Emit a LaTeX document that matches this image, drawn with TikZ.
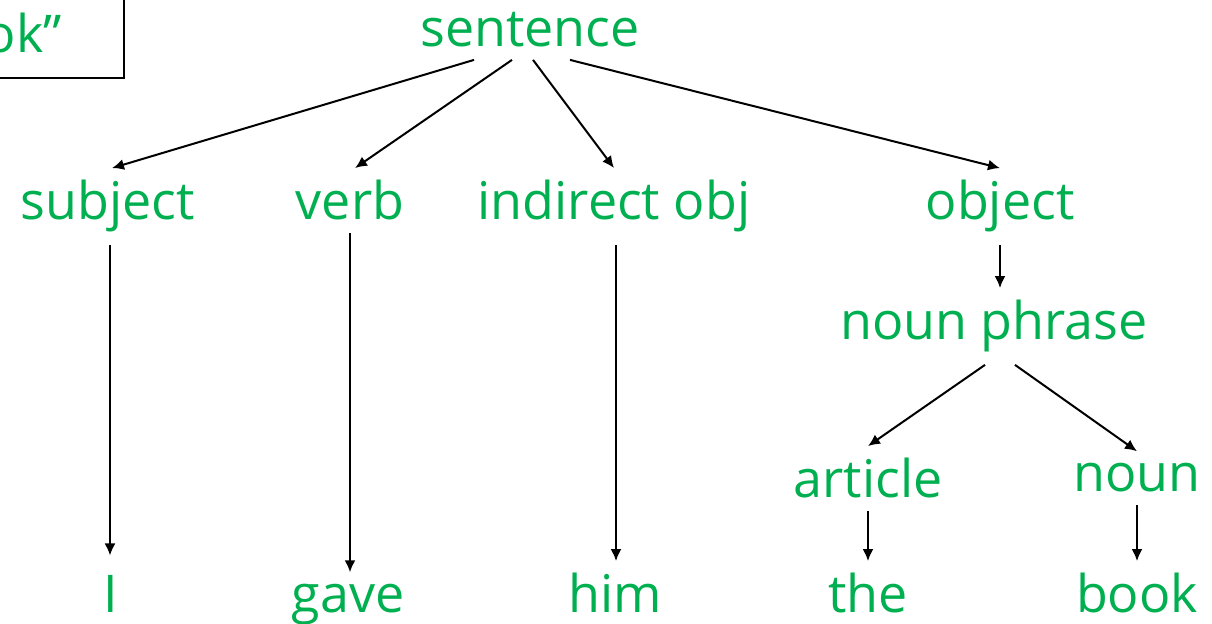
\documentclass[tikz,border=0pt]{standalone}
\usepackage{fontspec}
\setmainfont{Open Sans}
\usepackage{xcolor}
\usetikzlibrary{arrows.meta}
\definecolor{wordgreen}{HTML}{00B050}

\begin{document}
\begin{tikzpicture}[x=0.5pt,y=-0.5pt,
                every node/.append style = {anchor = base, text = wordgreen, inner sep = 6pt,
                    font = \fontsize{26}{30}\selectfont},
                arr/.style = {-{Latex[length=6pt,width=5.5pt]}, line width = 1pt}]
            \useasboundingbox (0,0) rectangle (1212,624);
            % the quoted sentence, mostly off the page
            \node[anchor = base east, inner sep = 0pt] (quote) at (62,53) {ok”};
            \draw[line width = 1pt] (-120,-40) rectangle (124,78);
            % tree
            \node (sent) at (530,47) {sentence};
            \node (subj) at (108,220) {subject};
            \node (verb) at (350,220) {verb};
            \node (iobj) at (614,220) {indirect obj};
            \node (obj) at (1000,220) {object};
            \node (np) at (994,340) {noun phrase};
            \node (art) at (868,498) {article};
            \node (noun) at (1137,492) {noun};
            \node (wI) at (111,613) {I};
            \node (wgave) at (348,613) {gave};
            \node (whim) at (615,613) {him};
            \node (wthe) at (868,613) {the};
            \node (wbook) at (1137,613) {book};
            \draw[arr] ([xshift=-28pt]sent.south) -- ([xshift=2pt]subj.north);
            \draw[arr] ([xshift=-9pt]sent.south) -- ([xshift=2.5pt]verb.north);
            \draw[arr] ([xshift=1.5pt]sent.south) -- (iobj.north);
            \draw[arr] ([xshift=20pt]sent.south) -- (obj.north);
            \draw[arr, shorten >= 4pt] ([xshift=1pt]subj.south) -- ([xshift=1pt]subj.south |- wI.north);
            \draw[arr] (verb.south) -- (verb.south |- wgave.north);
            \draw[arr] ([xshift=1pt]iobj.south) -- ([xshift=1pt]iobj.south |- whim.north);
            \draw[arr] (obj.south) -- (obj.south |- np.north);
            \draw[arr] ([xshift=-4.5pt]np.south) -- (art.north);
            \draw[arr] ([xshift=10.5pt]np.south) -- (noun.north);
            \draw[arr] (art.south) -- (art.south |- wthe.north);
            \draw[arr] (noun.south) -- (noun.south |- wbook.north);
            \end{tikzpicture}
\end{document}
